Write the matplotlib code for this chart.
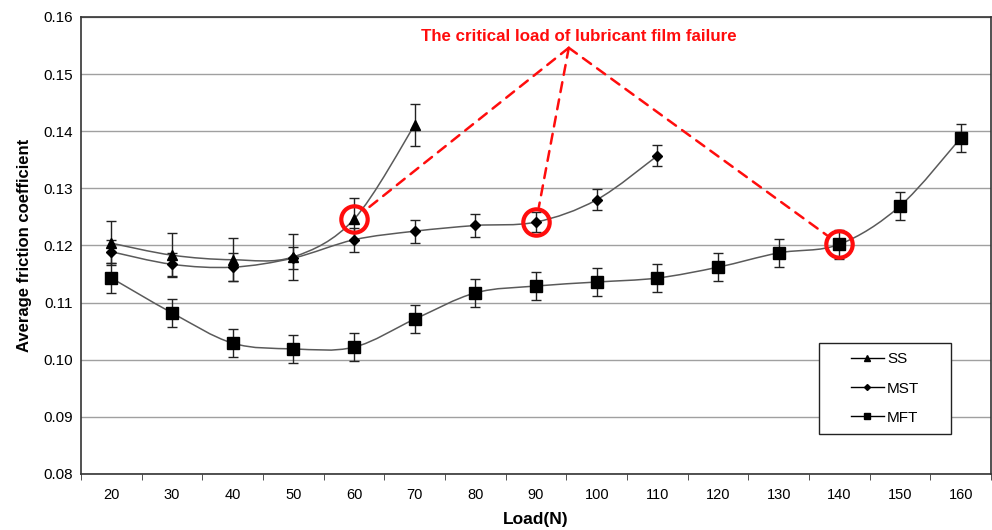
import numpy as np
import matplotlib
matplotlib.use("Agg")
import matplotlib.pyplot as plt
from matplotlib.path import Path
from matplotlib.patches import PathPatch, Rectangle
from matplotlib.lines import Line2D

plt.rcParams['font.family'] = ['Liberation Sans', 'DejaVu Sans']

# ---- data ----
loads = [20, 30, 40, 50, 60, 70, 80, 90, 100, 110, 120, 130, 140, 150, 160]

ss = [0.1204, 0.1183, 0.1175, 0.1180, 0.1246, 0.1411]
ss_err = [0.0038, 0.0038, 0.0038, 0.0040, 0.0037, 0.0037]

mst = [0.1189, 0.1167, 0.1162, 0.1178, 0.1210, 0.1225, 0.1235, 0.1241, 0.1280, 0.1357]
mst_err = [0.0020, 0.0020, 0.0024, 0.0020, 0.0021, 0.0020, 0.0020, 0.0018, 0.0018, 0.0018]

mft = [0.1143, 0.1082, 0.1029, 0.1019, 0.1022, 0.1071, 0.1117, 0.1129, 0.1136,
       0.1143, 0.1162, 0.1187, 0.1202, 0.1269, 0.1388]
mft_err = [0.0027, 0.0025, 0.0025, 0.0025, 0.0025, 0.0025, 0.0025, 0.0025, 0.0025,
           0.0025, 0.0025, 0.0025, 0.0025, 0.0025, 0.0025]

# critical points (series, load) and where the label sits
critical = [("SS", 60), ("MST", 90), ("MFT", 140)]
note_text = "The critical load of lubricant film failure"
apex = (7.54, 0.1546)
note_pos = (7.71, 0.1565)


def smooth_path(x, y):
    # Excel-style smoothed line (Catmull-Rom as Bezier segments)
    x = np.asarray(x, float)
    y = np.asarray(y, float)
    pts = np.column_stack([x, y])
    verts = [pts[0]]
    codes = [Path.MOVETO]
    n = len(pts)
    for i in range(n - 1):
        p0 = pts[i - 1] if i > 0 else pts[i]
        p1 = pts[i]
        p2 = pts[i + 1]
        p3 = pts[i + 2] if i + 2 < n else pts[i + 1]
        c1 = p1 + (p2 - p0) / 6.0
        c2 = p2 - (p3 - p1) / 6.0
        verts += [c1, c2, p2]
        codes += [Path.CURVE4] * 3
    return Path(verts, codes)


fig = plt.figure(figsize=(9.92, 5.30), dpi=100)
ax = fig.add_axes([0.0817, 0.1057, 0.9173, 0.8623])

xpos = np.arange(len(loads))
series = {
    "SS": (ss, ss_err, '^', 7),
    "MST": (mst, mst_err, 'D', 5.5),
    "MFT": (mft, mft_err, 's', 8),
}

for name, (vals, errs, mk, ms) in series.items():
    xs = xpos[:len(vals)]
    ax.add_patch(PathPatch(smooth_path(xs, vals), facecolor='none',
                           edgecolor='#5a5a5a', lw=1.1, zorder=3))
    ax.errorbar(xs, vals, yerr=errs, fmt='none', ecolor='#222222',
                elinewidth=1.0, capsize=3.5, capthick=1.0, zorder=4)
    ax.plot(xs, vals, ls='none', marker=mk, ms=ms, color='black', zorder=5)

# red circles and dashed pointers
red = '#ff0d0d'
for name, load in critical:
    i = loads.index(load)
    yv = series[name][0][i]
    ax.plot(xpos[i], yv, 'o', ms=19, mfc='none', mec=red, mew=3.0, zorder=6)
    ax.annotate('', xy=(xpos[i], yv), xytext=apex,
                arrowprops=dict(arrowstyle='-', ls=(0, (4, 3)), color=red,
                                lw=1.8, shrinkA=0, shrinkB=11), zorder=6)

ax.text(note_pos[0], note_pos[1], note_text, color=red, fontsize=12.2,
        fontweight='bold', ha='center', va='center')

# axes
ax.set_xlim(-0.5, len(loads) - 0.5)
ax.set_ylim(0.08, 0.16)
ax.set_yticks(np.arange(0.08, 0.1601, 0.01))
ax.set_yticklabels([f"{v:.2f}" for v in np.arange(0.08, 0.1601, 0.01)], fontsize=11)
ax.set_xticks(xpos)
ax.set_xticklabels([str(v) for v in loads], fontsize=10.5)
ax.set_xticks(np.arange(-0.5, len(loads), 1.0), minor=True)
ax.tick_params(axis='x', which='major', length=0, pad=10)
ax.tick_params(axis='x', which='minor', length=4, direction='out', color='#333333')
ax.tick_params(axis='y', length=0, pad=6)
ax.yaxis.grid(True, color='#a0a0a0', lw=1.0)
ax.set_axisbelow(True)
for s in ax.spines.values():
    s.set_color('#333333')
    s.set_linewidth(1.2)

ax.set_xlabel("Load(N)", fontsize=12.5, fontweight='bold', labelpad=7)
ax.set_ylabel("Average friction coefficient", fontsize=12, fontweight='bold', labelpad=8)

# legend with its own box
ax.add_patch(Rectangle((0.811, 0.0875), 0.145, 0.2, transform=ax.transAxes,
                       facecolor='white', edgecolor='#222222', lw=1.0, zorder=7))
handles = [
    Line2D([], [], color='black', lw=1, marker='^', ms=4),
    Line2D([], [], color='black', lw=1, marker='D', ms=3),
    Line2D([], [], color='black', lw=1, marker='s', ms=4),
]
ax.legend(handles, ["SS", "MST", "MFT"], loc='center',
          bbox_to_anchor=(0.8835, 0.187), frameon=False, fontsize=11,
          labelspacing=1.0, handlelength=2.2, handletextpad=0.2).set_zorder(8)

fig.savefig("out.png", dpi=100)
